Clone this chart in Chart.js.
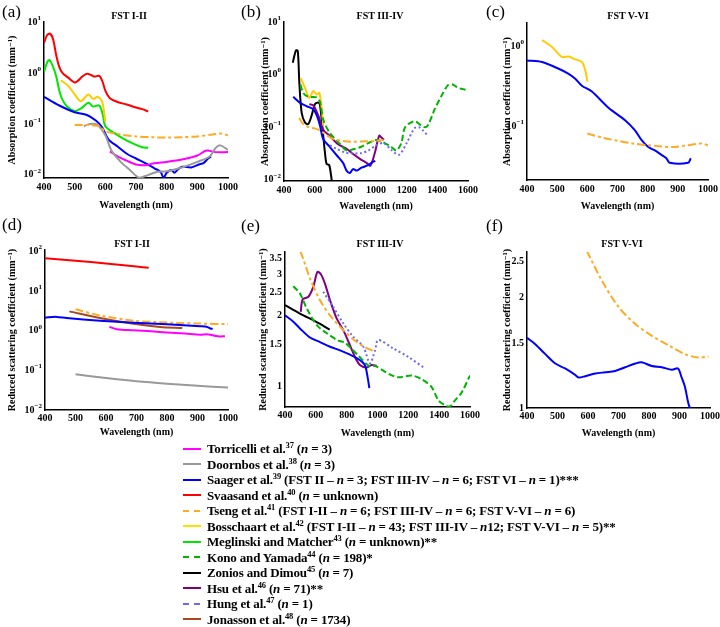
<!DOCTYPE html>
<html>
<head>
<meta charset="utf-8">
<script src="https://cdn.jsdelivr.net/npm/chart.js@4/dist/chart.umd.min.js"></script>
<style>
  html, body { margin: 0; padding: 0; background: #fff; }
  #fig { position: relative; width: 720px; height: 627px; overflow: hidden; background: #fff;
         font-family: "Liberation Serif", "DejaVu Serif", serif; color: #000; }
  #fig canvas { position: absolute; }
  .letter { position: absolute; font-size: 17px; line-height: 1; }
  .ttl { position: absolute; font-size: 10px; font-weight: bold; transform: translate(-50%, -50%); white-space: nowrap; }
  #legend { position: absolute; left: 183px; top: 441px; font-size: 13px; font-weight: bold; letter-spacing: -0.17px; }
  .row { height: 15.5px; line-height: 15.5px; white-space: nowrap; display: flex; align-items: center; }
  .swatch { width: 18px; height: 2px; margin-right: 6px; flex: none; }
  .row sup { font-size: 8.5px; line-height: 0; }
</style>
</head>
<body>
<div id="fig">
  <canvas id="pa" width="245" height="215" style="left:0;top:0"></canvas>
  <canvas id="pb" width="245" height="215" style="left:235px;top:0"></canvas>
  <canvas id="pc" width="245" height="215" style="left:475px;top:0"></canvas>
  <canvas id="pd" width="245" height="225" style="left:0;top:215px"></canvas>
  <canvas id="pe" width="245" height="225" style="left:235px;top:215px"></canvas>
  <canvas id="pf" width="245" height="225" style="left:475px;top:215px"></canvas>

  <div class="letter" style="left:2px;top:3px">(a)</div>
  <div class="letter" style="left:241px;top:3px">(b)</div>
  <div class="letter" style="left:486px;top:3px">(c)</div>
  <div class="letter" style="left:2px;top:216px">(d)</div>
  <div class="letter" style="left:241px;top:217px">(e)</div>
  <div class="letter" style="left:486px;top:217px">(f)</div>

  <div class="ttl" style="left:129px;top:15px">FST I-II</div>
  <div class="ttl" style="left:380px;top:15px">FST III-IV</div>
  <div class="ttl" style="left:628px;top:15px">FST V-VI</div>
  <div class="ttl" style="left:132px;top:243px">FST I-II</div>
  <div class="ttl" style="left:380px;top:243px">FST III-IV</div>
  <div class="ttl" style="left:622px;top:243px">FST V-VI</div>

  <div id="legend"></div>
</div>

<script>
// ── Series colours / dash patterns (one per study) ──
const COLORS = {
  torricelli: "#ff00ff",
  doornbos:   "#999999",
  saager:     "#0000ff",
  svaasand:   "#ff0000",
  tseng:      "#ffaa22",
  bosschaart: "#ffcc00",
  meglinski:  "#00e600",
  kono:       "#00b400",
  zonios:     "#000000",
  hsu:        "#800080",
  hung:       "#6b6bf0",
  jonasson:   "#a8481c"
};
const DASH = { tseng: [8, 3, 3, 3], kono: [6, 3], hung: [2, 2.5] };

// ── Data: [wavelength nm, value mm^-1] ──
// (a) absorption, FST I-II
const aTorricelli = [[615,0.029],[640,0.023],[670,0.019],[700,0.016],[730,0.0155],[760,0.017],[800,0.018],[850,0.02],[900,0.024],[930,0.03],[960,0.028],[1000,0.028]];
const aDoornbos   = [[530,0.09],[550,0.1],[575,0.095],[600,0.06],[620,0.03],[650,0.018],[680,0.0125],[710,0.0088],[740,0.01],[770,0.0115],[800,0.0118],[850,0.014],[900,0.018],[940,0.023],[960,0.034],[975,0.038],[1000,0.031]];
const aSaager     = [[400,0.34],[450,0.23],[500,0.17],[540,0.15],[570,0.115],[590,0.085],[610,0.05],[640,0.036],[670,0.026],[700,0.021],[730,0.017],[760,0.0135],[780,0.0115],[790,0.0088],[800,0.011],[815,0.0125],[825,0.011],[835,0.0125],[850,0.0145],[880,0.014],[905,0.016],[920,0.017],[935,0.021],[945,0.023]];
const aSvaasand   = [[400,3.9],[410,5.5],[420,5.9],[430,4.5],[440,2.2],[450,1.3],[460,1.0],[480,0.8],[500,0.65],[510,0.7],[525,0.85],[540,0.97],[555,0.9],[565,0.85],[580,0.88],[590,0.7],[600,0.45],[615,0.32],[640,0.27],[670,0.24],[700,0.21],[720,0.195],[740,0.176]];
const aTseng      = [[500,0.095],[550,0.095],[580,0.09],[600,0.072],[650,0.062],[700,0.057],[750,0.055],[800,0.054],[850,0.055],[900,0.057],[950,0.062],[975,0.065],[1000,0.06]];
const aBosschaart = [[455,0.72],[480,0.55],[500,0.38],[520,0.28],[545,0.38],[560,0.31],[575,0.34],[590,0.27],[600,0.11]];
const aMeglinski  = [[400,1.03],[410,1.6],[418,1.8],[430,1.3],[440,0.85],[450,0.45],[460,0.3],[475,0.22],[500,0.18],[520,0.2],[545,0.26],[560,0.22],[580,0.23],[592,0.15],[600,0.09],[630,0.066],[660,0.051],[700,0.039],[720,0.035],[740,0.034]];

// (b) absorption, FST III-IV
const bSaager     = [[460,0.38],[505,0.29],[550,0.25],[590,0.22],[613,0.17],[635,0.107],[655,0.06],[700,0.042],[745,0.029],[785,0.021],[808,0.015],[830,0.0135],[850,0.016],[875,0.015],[905,0.017],[950,0.019],[970,0.021],[995,0.023]];
const bTseng      = [[500,0.15],[520,0.12],[560,0.1],[600,0.095],[640,0.085],[680,0.07],[720,0.06],[780,0.055],[850,0.053],[950,0.054],[1000,0.055],[1050,0.057]];
const bBosschaart = [[508,0.87],[537,0.56],[565,0.36],[591,0.49],[613,0.42],[630,0.45],[645,0.24],[656,0.107]];
const bKono       = [[508,0.65],[525,0.45],[558,0.38],[613,0.37],[635,0.3],[656,0.14],[696,0.08],[765,0.048],[808,0.036],[850,0.038],[900,0.042],[950,0.05],[1000,0.057],[1046,0.052],[1100,0.042],[1133,0.036],[1165,0.05],[1190,0.1],[1250,0.13],[1296,0.107],[1320,0.1],[1340,0.11],[1383,0.22],[1426,0.39],[1470,0.63],[1500,0.65],[1535,0.56],[1567,0.53],[1600,0.5]];
const bZonios     = [[457,1.68],[478,2.9],[490,2.8],[500,0.7],[515,0.19],[537,0.123],[558,0.115],[580,0.166],[602,0.275],[624,0.295],[635,0.26],[652,0.09],[667,0.033],[678,0.02],[695,0.019],[712,0.0095]];
const bHsu        = [[565,0.275],[591,0.26],[624,0.166],[656,0.09],[696,0.069],[750,0.048],[808,0.039],[851,0.031],[895,0.025],[938,0.021],[964,0.0187],[993,0.033],[1021,0.069],[1037,0.063],[1052,0.058]];
const bHung       = [[700,0.045],[750,0.038],[800,0.033],[850,0.032],[900,0.032],[950,0.036],[1000,0.045],[1050,0.05],[1100,0.037],[1150,0.03],[1200,0.05],[1250,0.095],[1280,0.1],[1310,0.085],[1340,0.068]];

// (c) absorption, FST V-VI
const cSaager     = [[400,0.66],[450,0.63],[505,0.52],[538,0.45],[560,0.39],[582,0.32],[615,0.27],[670,0.17],[725,0.119],[758,0.089],[780,0.067],[802,0.055],[824,0.05],[846,0.044],[862,0.04],[873,0.035],[934,0.035],[943,0.04]];
const cTseng      = [[600,0.081],[650,0.072],[700,0.066],[750,0.061],[800,0.058],[850,0.056],[880,0.055],[920,0.057],[960,0.06],[980,0.061],[1000,0.058]];
const cBosschaart = [[450,1.18],[483,0.97],[516,0.73],[538,0.74],[560,0.68],[582,0.63],[593,0.5],[600,0.36]];

// (d) reduced scattering, FST I-II
const dTorricelli = [[611,1.26],[635,1.1],[690,1.03],[750,0.97],[800,0.91],[860,0.85],[909,0.8],[930,0.82],[942,0.8],[960,0.74],[975,0.72],[990,0.73]];
const dDoornbos   = [[500,0.08],[600,0.064],[700,0.053],[800,0.046],[900,0.041],[1000,0.037]];
const dSaager     = [[400,2.15],[438,2.25],[471,2.1],[580,1.8],[690,1.6],[800,1.47],[909,1.31],[930,1.27],[942,1.14],[950,1.12]];
const dSvaasand   = [[400,68],[500,59],[600,50],[700,42],[740,39]];
const dTseng      = [[500,3.5],[580,2.45],[690,1.8],[800,1.62],[909,1.52],[1000,1.47]];
const dJonasson   = [[480,3.1],[580,2.1],[690,1.5],[777,1.25],[850,1.17]];

// (e) reduced scattering, FST III-IV
const eSaager     = [[400,2.0],[454,1.88],[497,1.76],[562,1.61],[627,1.54],[692,1.47],[757,1.42],[822,1.36],[886,1.29],[918,1.23],[935,1.1],[947,0.98]];
const eTseng      = [[500,3.75],[530,3.3],[562,2.87],[627,2.32],[692,2.0],[778,1.73],[865,1.54],[930,1.45],[984,1.4]];
const eKono       = [[454,2.66],[497,2.48],[541,2.14],[605,1.82],[670,1.68],[746,1.56],[789,1.53],[870,1.36],[951,1.21],[984,1.22],[1070,1.13],[1135,1.09],[1222,1.11],[1286,1.07],[1351,0.99],[1395,0.87],[1438,0.83],[1470,0.82],[1503,0.87],[1546,0.94],[1600,1.11]];
const eZonios     = [[400,2.21],[500,2.03],[600,1.88],[690,1.74]];
const eHsu        = [[502,2.07],[515,2.34],[552,2.4],[584,2.65],[610,3.06],[632,3.0],[659,2.73],[692,2.32],[735,1.94],[778,1.73],[822,1.49],[854,1.33],[886,1.23],[930,1.2],[962,1.23],[995,1.22]];
const eHung       = [[648,2.52],[713,2.17],[778,1.85],[843,1.62],[908,1.47],[951,1.25],[984,1.42],[1005,1.57],[1100,1.45],[1200,1.33],[1300,1.2]];

// (f) reduced scattering, FST V-VI
const fSaager     = [[400,1.55],[427,1.49],[460,1.4],[493,1.32],[525,1.28],[558,1.23],[569,1.21],[591,1.22],[624,1.24],[656,1.25],[689,1.26],[722,1.29],[755,1.32],[776,1.33],[809,1.3],[842,1.29],[875,1.27],[895,1.28],[907,1.21],[918,1.14],[929,1.03],[940,0.97]];
const fTseng      = [[596,2.67],[645,2.22],[700,1.88],[755,1.69],[809,1.57],[864,1.48],[918,1.4],[962,1.37],[995,1.38]];

// ── Axis ticks ──
const decadeTicks = [0.01, 0.1, 1, 10, 100];
const decadeExps  = ["−2", "−1", "0", "1", "2"];
const linTicksE   = [1, 1.5, 2, 2.5, 3, 3.5];
const linTicksF   = [1, 1.5, 2, 2.5];

const FONT = "'Liberation Serif', 'DejaVu Serif', serif";
const charts = {};

function mkChart(id, cfg) {
  if (charts[id]) charts[id].destroy();
  charts[id] = new Chart(document.getElementById(id), cfg);
}

// ── "10^n" y tick labels with a real raised exponent ──
const supTicks = {
  id: "supTicks",
  afterDraw(chart, args, opts) {
    if (!opts.exps) return;
    const s = chart.scales.y, ctx = chart.ctx;
    ctx.save();
    ctx.fillStyle = "#000";
    ctx.textAlign = "right";
    ctx.textBaseline = "middle";
    s.ticks.forEach((t, i) => {
      const y = s.getPixelForValue(t.value);
      const xr = s.right - 3;
      ctx.font = `bold 7px ${FONT}`;
      const ew = ctx.measureText(opts.exps[i]).width;
      ctx.fillText(opts.exps[i], xr, y - 4);
      ctx.font = `bold 10px ${FONT}`;
      ctx.fillText("10", xr - ew, y);
    });
    ctx.restore();
  }
};

// dataset from [x, y] pairs
function ds(pairs, key) {
  return {
    data: pairs.map(p => ({ x: p[0], y: p[1] })),
    borderColor: COLORS[key],
    borderDash: DASH[key] || [],
    borderWidth: 2,
    pointRadius: 0,
    showLine: true,
    fill: false,
    tension: 0.3,
  };
}

// ── Shared panel options factory ──
function panelOpts(datasets, o) {
  const font = { family: FONT, weight: "bold", size: 10 };
  return {
    type: "scatter",
    data: { datasets },
    plugins: [supTicks],
    options: {
      responsive: false,
      animation: false,
      events: [],
      layout: { padding: { top: o.top, right: o.right, left: 0, bottom: 0 } },
      plugins: { legend: { display: false }, tooltip: { enabled: false }, supTicks: { exps: o.yExps } },
      scales: {
        x: {
          type: "linear", min: o.xMin, max: o.xMax,
          grid: { display: false, drawTicks: false },
          border: { color: "#000", width: 1.5 },
          ticks: { stepSize: o.xStep, autoSkip: false, maxRotation: 0, padding: o.xTickPad,
                   color: "#000", font, callback: v => String(v) },
          title: { display: true, text: "Wavelength (nm)", color: "#000", font,
                   padding: { top: 0, bottom: o.xTitlePad } },
          afterFit: s => { s.height = o.xH; s.paddingLeft = 0; s.paddingRight = 0; },
        },
        y: {
          type: "logarithmic", min: o.yMin, max: o.yMax,
          grid: { display: false, drawTicks: false },
          border: { color: "#000", width: 1.5 },
          afterBuildTicks: s => { s.ticks = o.yTicks.map(v => ({ value: v })); },
          ticks: { display: !o.yExps, autoSkip: false, padding: 3, color: "#000", font,
                   callback: v => String(v) },
          title: { display: true, text: o.yTitle, color: "#000", font,
                   padding: { top: o.yTitlePad, bottom: 0 } },
          afterFit: s => { s.width = o.yW; s.paddingTop = 0; s.paddingBottom = 0; },
        },
      },
    },
  };
}

const ABS = "Absorption coefficient (mm⁻¹)";
const SCA = "Reduced scattering coefficient (mm⁻¹)";

function render() {
  mkChart("pa", panelOpts([
    ds(aTseng, "tseng"), ds(aDoornbos, "doornbos"), ds(aTorricelli, "torricelli"),
    ds(aSaager, "saager"), ds(aBosschaart, "bosschaart"), ds(aMeglinski, "meglinski"), ds(aSvaasand, "svaasand"),
  ], { top: 22, right: 17, yW: 44, xH: 37, xMin: 400, xMax: 1000, xStep: 100, xTickPad: 3, xTitlePad: 4,
       yMin: 0.0087, yMax: 10, yTicks: decadeTicks.slice(0, 4), yExps: decadeExps.slice(0, 4), yTitle: ABS, yTitlePad: 6 }));

  mkChart("pb", panelOpts([
    ds(bTseng, "tseng"), ds(bHung, "hung"), ds(bKono, "kono"), ds(bSaager, "saager"),
    ds(bBosschaart, "bosschaart"), ds(bHsu, "hsu"), ds(bZonios, "zonios"),
  ], { top: 22, right: 12, yW: 49, xH: 34, xMin: 400, xMax: 1600, xStep: 200, xTickPad: 3, xTitlePad: 3,
       yMin: 0.0095, yMax: 10, yTicks: decadeTicks.slice(0, 4), yExps: decadeExps.slice(0, 4), yTitle: ABS, yTitlePad: 24 }));

  mkChart("pc", panelOpts([
    ds(cTseng, "tseng"), ds(cSaager, "saager"), ds(cBosschaart, "bosschaart"),
  ], { top: 23, right: 12, yW: 52, xH: 35, xMin: 400, xMax: 1000, xStep: 100, xTickPad: 3, xTitlePad: 3,
       yMin: 0.0214, yMax: 1.93, yTicks: decadeTicks.slice(1, 3), yExps: decadeExps.slice(1, 3), yTitle: ABS, yTitlePad: 26 }));

  mkChart("pd", panelOpts([
    ds(dDoornbos, "doornbos"), ds(dTorricelli, "torricelli"), ds(dSaager, "saager"),
    ds(dTseng, "tseng"), ds(dJonasson, "jonasson"), ds(dSvaasand, "svaasand"),
  ], { top: 35, right: 17, yW: 45, xH: 30, xMin: 400, xMax: 1000, xStep: 100, xTickPad: 2, xTitlePad: 2,
       yMin: 0.01, yMax: 110, yTicks: decadeTicks, yExps: decadeExps, yTitle: SCA, yTitlePad: 6 }));

  mkChart("pe", panelOpts([
    ds(eKono, "kono"), ds(eTseng, "tseng"), ds(eHung, "hung"), ds(eSaager, "saager"),
    ds(eZonios, "zonios"), ds(eHsu, "hsu"),
  ], { top: 37, right: 10, yW: 50, xH: 33, xMin: 400, xMax: 1600, xStep: 200, xTickPad: 2, xTitlePad: 1,
       yMin: 0.815, yMax: 3.72, yTicks: linTicksE, yTitle: SCA, yTitlePad: 22 }));

  mkChart("pf", panelOpts([
    ds(fTseng, "tseng"), ds(fSaager, "saager"),
  ], { top: 37, right: 10, yW: 52, xH: 32, xMin: 400, xMax: 1000, xStep: 100, xTickPad: 2, xTitlePad: 1,
       yMin: 1, yMax: 2.65, yTicks: linTicksF, yTitle: SCA, yTitlePad: 26 }));
}

// ── Legend (HTML, below the panels) ──
const legendKeys = ["torricelli","doornbos","saager","svaasand","tseng","bosschaart","meglinski","kono","zonios","hsu","hung","jonasson"];
const legendText = [
  "Torricelli et al.<sup>37</sup> (<i>n</i> = 3)",
  "Doornbos et al.<sup>38</sup> (<i>n</i> = 3)",
  "Saager et al.<sup>39</sup> (FST II – <i>n</i> = 3; FST III-IV – <i>n</i> = 6; FST VI – <i>n</i> = 1)***",
  "Svaasand et al.<sup>40</sup> (<i>n</i> = unknown)",
  "Tseng et al.<sup>41</sup> (FST I-II – <i>n</i> = 6; FST III-IV – <i>n</i> = 6; FST V-VI – <i>n</i> = 6)",
  "Bosschaart et al.<sup>42</sup> (FST I-II – <i>n</i> = 43; FST III-IV – <i>n</i>12; FST V-VI – <i>n</i> = 5)**",
  "Meglinski and Matcher<sup>43</sup> (<i>n</i> = unknown)**",
  "Kono and Yamada<sup>44</sup> (<i>n</i> = 198)*",
  "Zonios and Dimou<sup>45</sup> (<i>n</i> = 7)",
  "Hsu et al.<sup>46</sup> (<i>n</i> = 71)**",
  "Hung et al.<sup>47</sup> (<i>n</i> = 1)",
  "Jonasson et al.<sup>48</sup> (<i>n</i> = 1734)",
];
const legendDashed = ["tseng", "kono", "hung"];

function buildLegend() {
  const box = document.getElementById("legend");
  legendKeys.forEach((k, i) => {
    const c = k === "bosschaart" ? "#ffe000" : COLORS[k];
    const bg = legendDashed.includes(k)
      ? `repeating-linear-gradient(90deg, ${c} 0 6px, transparent 6px 11px)`
      : c;
    const row = document.createElement("div");
    row.className = "row";
    row.innerHTML = `<span class="swatch" style="background:${bg}"></span><span>${legendText[i]}</span>`;
    box.appendChild(row);
  });
}

buildLegend();
render();
</script>
</body>
</html>
